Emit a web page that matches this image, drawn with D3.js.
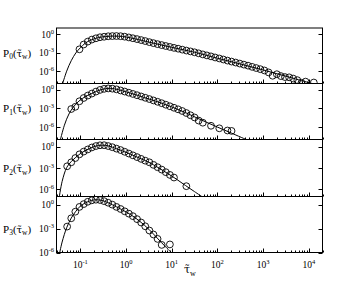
<!DOCTYPE html>
<html>
<head>
<meta charset="utf-8">
<script src="https://cdn.jsdelivr.net/npm/d3@7"></script>
<style>
body { margin: 0; background: #fff; }
text { font-family: "Liberation Serif", "Times New Roman", serif; fill: #000; }
.tau { font-family: "DejaVu Serif", serif; }
</style>
</head>
<body>
<div id="vis"></div>
<script>
// log-binned waiting times shared by the four panels (circles)
var tauBins = [0.0513, 0.0631, 0.0776, 0.0955, 0.118, 0.145, 0.178, 0.219, 0.269, 0.331,
    0.407, 0.501, 0.617, 0.759, 0.933, 1.15, 1.41, 1.74, 2.14, 2.63,
    3.24, 3.98, 4.90, 6.03, 7.41, 9.12, 11.2, 13.8, 17.0, 20.9,
    25.7, 31.6, 38.9, 47.9, 58.9, 72.4, 89.1, 110, 135, 166,
    204, 251, 309, 380, 468, 575, 708, 871, 1070, 1320,
    1620, 2000, 2450, 3020, 3720, 4570, 5620, 6920, 8510, 10500, 12900];

// measured P_k at each bin (null = empty bin)
var p0Circles = [null, null, null, 3.5e-3, 2.1e-2, 6.2e-2, 0.132, 0.214, 0.316, 0.38,
    0.457, 0.49, 0.50, 0.468, 0.39, 0.295, 0.219, 0.158, 0.11, 0.076,
    0.051, 0.035, 0.024, 0.017, 0.012, 8.5e-3, 6.0e-3, 4.4e-3, 3.1e-3, 2.2e-3,
    1.6e-3, 1.15e-3, 7.8e-4, 5.2e-4, 3.6e-4, 2.5e-4, 1.66e-4, 1.15e-4, 7.8e-5, 5.2e-5,
    3.6e-5, 2.5e-5, 1.7e-5, 1.15e-5, 7.8e-6, 5.0e-6, 3.2e-6, 2.1e-6, 1.3e-6, 6.3e-7,
    1.8e-7, 3.2e-7, 1.6e-7, 1.1e-7, 1.0e-7, 6.3e-8, 3.5e-8, 1.3e-8, 2.0e-8, null, 1.45e-8];
var p1Circles = [null, 7.9e-4, 1.8e-3, 0.014, 0.047, 0.115, 0.24, 0.50, 0.93, 1.38,
    1.62, 1.48, 1.15, 0.76, 0.51, 0.33, 0.21, 0.132, 0.083, 0.051,
    0.0316, 0.019, 0.0115, 6.8e-3, 3.9e-3, 2.2e-3, 1.26e-3, 7.1e-4, 3.8e-4, 1.8e-4,
    7.9e-5, 3.5e-5, 1.1e-5, 5.0e-6, null, 1.6e-6, null, 6.3e-7, null, 2.8e-7,
    2.4e-7];
var p2Circles = [1.74e-3, 6.3e-3, 0.025, 0.083, 0.2, 0.4, 0.76, 1.2, 1.55, 1.58,
    1.2, 0.83, 0.52, 0.33, 0.19, 0.107, 0.06, 0.034, 0.019, 0.0107,
    6.3e-3, 2.75e-3, 1.29e-3, 6.0e-4, 2.6e-4, 1.07e-4, 4.6e-5, null, null, 2.8e-6];
var p3Circles = [1.74e-3, 0.019, 0.126, 0.5, 1.12, 2.19, 3.31, 3.98, 3.63, 2.63,
    1.66, 0.955, 0.5, 0.275, 0.141, 0.072, 0.035, 0.0148, 5.6e-3, 1.9e-3,
    5.6e-4, 1.78e-4, 5.0e-5, 8.9e-6, null, 1.02e-5];

// theory curves
var p0LineTau = [0.0398, 0.0501, 0.0631, 0.0794, 0.1, 0.126, 0.158, 0.2, 0.251, 0.355, 0.501, 0.708, 1, 1.58, 3.16, 10, 31.6, 100, 316, 1000, 3160, 10000, 12600];
var p0LineP   = [5e-9, 1e-6, 5e-5, 8.9e-4, 6.3e-3, 0.0316, 0.089, 0.174, 0.282, 0.417, 0.49, 0.468, 0.347, 0.174, 0.0513, 7.4e-3, 1.17e-3, 1.26e-4, 1.48e-5, 1.58e-6, 1.51e-7, 1.41e-8, 8.9e-9];
var p1LineTau = [0.0355, 0.0447, 0.0562, 0.0708, 0.0891, 0.112, 0.141, 0.178, 0.224, 0.282, 0.355, 0.447, 0.562, 0.794, 1.26, 2.51, 5.01, 10, 20, 39.8, 100, 200, 457];
var p1LineP   = [4e-9, 2e-6, 1.26e-4, 1.8e-3, 0.0112, 0.0417, 0.112, 0.251, 0.537, 1.0, 1.48, 1.66, 1.38, 0.741, 0.275, 0.0562, 0.011, 1.74e-3, 2.09e-4, 2.0e-5, 1.0e-6, 1.12e-7, 7.9e-9];
var p2LineTau = [0.0339, 0.0398, 0.0501, 0.0631, 0.0794, 0.1, 0.126, 0.158, 0.2, 0.251, 0.316, 0.398, 0.501, 0.794, 1.26, 2.0, 3.16, 5.01, 7.94, 12.6, 20, 31.6, 47.9];
var p2LineP   = [4e-8, 1.26e-5, 1.12e-3, 7.9e-3, 0.0316, 0.105, 0.263, 0.55, 1.0, 1.45, 1.58, 1.32, 0.83, 0.282, 0.085, 0.0234, 6.3e-3, 1.17e-3, 1.9e-4, 2.8e-5, 3.5e-6, 4.8e-7, 7.9e-8];
var p3LineTau = [0.0339, 0.0398, 0.0501, 0.0631, 0.0794, 0.1, 0.126, 0.158, 0.2, 0.251, 0.316, 0.398, 0.501, 0.794, 1.26, 2.0, 3.16, 5.01, 7.08, 10.2];
var p3LineP   = [3.2e-7, 2e-5, 1.26e-3, 0.02, 0.141, 0.63, 1.48, 2.69, 3.8, 3.8, 2.88, 1.74, 0.93, 0.24, 0.054, 7.9e-3, 7.9e-4, 5e-5, 6.3e-6, 7.9e-7];

// axes
var tauRange = [0.03, 2e4];
var yLow = [1e-8, 1e-8, 1e-7, 1e-6], yHigh = 10;
var yTicks = [1, 1e-3, 1e-6], yTickLabels = ["0", "-3", "-6"];
var xTicks = [0.1, 1, 10, 100, 1000, 10000], xTickLabels = ["-1", "0", "1", "2", "3", "4"];
var panelIndex = ["0", "1", "2", "3"];

var w = 363, h = 281,
    left = 56.5, right = 322.5,
    bounds = [28, 83.5, 139.5, 196.5, 252.5];

var x = d3.scaleLog().domain(tauRange).range([left, right]);

var svg = d3.select("#vis").append("svg")
    .attr("width", w)
    .attr("height", h);

var panels = [
    { circles: p0Circles, lineTau: p0LineTau, lineP: p0LineP },
    { circles: p1Circles, lineTau: p1LineTau, lineP: p1LineP },
    { circles: p2Circles, lineTau: p2LineTau, lineP: p2LineP },
    { circles: p3Circles, lineTau: p3LineTau, lineP: p3LineP }
];

panels.forEach(function(p, i) {
    var top = bounds[i], bottom = bounds[i + 1];
    var y = d3.scaleLog().domain([yLow[i], yHigh]).range([bottom, top]);
    var g = svg.append("g");

    g.append("clipPath").attr("id", "clip" + i)
      .append("rect")
        .attr("x", left).attr("y", top)
        .attr("width", right - left).attr("height", bottom - top);

    var plot = g.append("g").attr("clip-path", "url(#clip" + i + ")");

    var line = d3.line()
        .x(function(d) { return x(d[0]); })
        .y(function(d) { return y(d[1]); })
        .curve(d3.curveCatmullRom.alpha(0.5));

    plot.append("path")
        .datum(d3.zip(p.lineTau, p.lineP))
        .attr("d", line)
        .attr("fill", "none")
        .attr("stroke", "#000")
        .attr("stroke-width", 1);

    var pts = tauBins.map(function(t, k) { return [t, p.circles[k]]; })
        .filter(function(d) { return d[1] != null; });

    plot.selectAll("circle")
        .data(pts)
        .enter().append("circle")
        .attr("cx", function(d) { return x(d[0]); })
        .attr("cy", function(d) { return y(d[1]); })
        .attr("r", 3.4)
        .attr("fill", "none")
        .attr("stroke", "#000")
        .attr("stroke-width", 0.9);

    // x ticks along the bottom of each panel, pointing in
    g.selectAll(".xTicks")
        .data(x.ticks())
        .enter().append("line")
        .attr("x1", function(d) { return Math.round(x(d)) + 0.5; })
        .attr("x2", function(d) { return Math.round(x(d)) + 0.5; })
        .attr("y1", bottom)
        .attr("y2", function(d) {
            var major = Math.abs(Math.log10(d) - Math.round(Math.log10(d))) < 1e-6;
            return bottom - (major ? 4 : 2);
        })
        .attr("stroke", "#000")
        .attr("stroke-width", 1);

    // y ticks on both sides
    yTicks.forEach(function(v, k) {
        var yy = Math.round(y(v)) + 0.5;
        g.append("line").attr("x1", left).attr("x2", left + 4)
            .attr("y1", yy).attr("y2", yy).attr("stroke", "#000");
        g.append("line").attr("x1", right).attr("x2", right - 4)
            .attr("y1", yy).attr("y2", yy).attr("stroke", "#000");

        var t = g.append("text")
            .attr("x", 54)
            .attr("y", y(v) + 3.5)
            .attr("text-anchor", "end")
            .style("font-size", "9.5px");
        t.append("tspan").text("10");
        t.append("tspan").attr("dy", -4).style("font-size", "6.5px").text(yTickLabels[k]);
    });

    // panel frame
    g.append("rect")
        .attr("x", left).attr("y", top)
        .attr("width", right - left).attr("height", bottom - top)
        .attr("fill", "none")
        .attr("stroke", "#000")
        .attr("stroke-width", 1);

    // P_k(tau_w) label
    var lab = g.append("text")
        .attr("x", 3)
        .attr("y", y(1e-3) + 4)
        .style("font-size", "11px");
    lab.append("tspan").text("P");
    lab.append("tspan").attr("dy", 2.5).style("font-size", "7.5px").text(panelIndex[i]);
    lab.append("tspan").attr("dy", -2.5).text("(");
    lab.append("tspan").attr("class", "tau").style("font-size", "10px").text("\u03c4\u0303");
    lab.append("tspan").attr("dy", 2.5).style("font-size", "7.5px").text("w");
    lab.append("tspan").attr("dy", -2.5).text(")");
});

// x tick labels under the last panel
xTicks.forEach(function(v, k) {
    var t = svg.append("text")
        .attr("x", x(v))
        .attr("y", 268)
        .attr("text-anchor", "middle")
        .style("font-size", "9.5px");
    t.append("tspan").text("10");
    t.append("tspan").attr("dy", -4).style("font-size", "6.5px").text(xTickLabels[k]);
});

var xt = svg.append("text")
    .attr("x", 184)
    .attr("y", 272.5)
    .style("font-size", "12px");
xt.append("tspan").attr("class", "tau").style("font-size", "11px").text("\u03c4\u0303");
xt.append("tspan").attr("dy", 3).style("font-size", "8px").text("w");
</script>
</body>
</html>
